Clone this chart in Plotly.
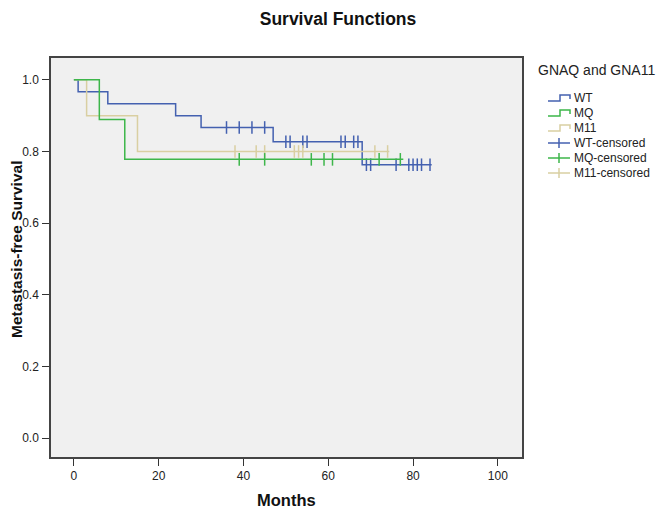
import plotly.graph_objects as go

# step times and survival levels
wt_time = [0, 1, 8, 24, 30, 47, 68, 84.4]
wt_surv = [1.0, 0.967, 0.933, 0.900, 0.867, 0.827, 0.763, 0.763]
wt_cens = [36, 39, 42, 45, 50, 51, 54, 55, 63, 64, 66, 67, 69, 70, 76, 79, 80, 81, 82, 84]

mq_time = [0, 6, 12, 77.7]
mq_surv = [1.0, 0.889, 0.778, 0.778]
mq_cens = [39, 45, 56, 59, 61, 72, 77]

m11_time = [0, 3, 15, 74.4]
m11_surv = [1.0, 0.9, 0.8, 0.8]
m11_cens = [38, 43, 45, 52, 53, 54, 71, 74]

groups = ["WT", "MQ", "M11"]
colors = {"WT": "#4461b0", "MQ": "#3db64a", "M11": "#d9cfa2"}
steps = {"WT": (wt_time, wt_surv, wt_cens),
         "MQ": (mq_time, mq_surv, mq_cens),
         "M11": (m11_time, m11_surv, m11_cens)}


def level_at(t, times, surv):
    s = surv[0]
    for tt, ss in zip(times, surv):
        if tt <= t:
            s = ss
    return s


# the page body has an 8px margin, so shrink the figure and shift everything by it
OFF = 8
W, H = 672 - OFF, 514 - OFF
L, R, T, B = 51 - OFF, 522 - OFF, 58 - OFF, 457 - OFF   # plot box in figure pixels


def px(x):
    # x given in screenshot pixels
    return (x - OFF - L) / (R - L)


def py(y):
    return 1 - (y - OFF - T) / (B - T)


FONT = "Liberation Sans, Arial, sans-serif"
fig = go.Figure()

# green drawn last so it sits on top
for g in ["WT", "M11", "MQ"]:
    t, s, c = steps[g]
    fig.add_trace(go.Scatter(x=t, y=s, mode="lines", line_shape="hv", name=g,
                             line=dict(color=colors[g], width=1.5), hoverinfo="skip"))
    fig.add_trace(go.Scatter(x=c, y=[level_at(v, t, s) for v in c], mode="markers",
                             name=g + "-censored",
                             marker=dict(symbol="line-ns", size=9,
                                         line=dict(color=colors[g], width=1.5)),
                             hoverinfo="skip"))

# hand-built legend, SPSS style
shapes = []
annotations = [dict(text="GNAQ and GNA11", x=px(536), y=py(70), xref="paper", yref="paper",
                    xanchor="left", yanchor="middle", showarrow=False,
                    font=dict(size=14, color="#222222"))]
x0 = 548
labels = groups + [g + "-censored" for g in groups]
for i, lab in enumerate(labels):
    yy = 98 + 15 * i
    col = colors[lab.split("-")[0]]
    if i < 3:
        path = (f"M {px(x0)},{py(yy + 3)} L {px(x0 + 12)},{py(yy + 3)} "
                f"L {px(x0 + 12)},{py(yy - 3)} L {px(x0 + 22)},{py(yy - 3)} "
                f"L {px(x0 + 22)},{py(yy + 1)}")
        shapes.append(dict(type="path", path=path, xref="paper", yref="paper",
                           line=dict(color=col, width=1.5)))
    else:
        shapes.append(dict(type="line", x0=px(x0), x1=px(x0 + 22), y0=py(yy), y1=py(yy),
                           xref="paper", yref="paper", line=dict(color=col, width=1.5)))
        shapes.append(dict(type="line", x0=px(x0 + 11), x1=px(x0 + 11), y0=py(yy - 5),
                           y1=py(yy + 5), xref="paper", yref="paper",
                           line=dict(color=col, width=1.5)))
    annotations.append(dict(text=lab, x=px(x0 + 24), y=py(yy), xref="paper", yref="paper",
                            xanchor="left", yanchor="middle", showarrow=False,
                            font=dict(size=12, color="#222222")))

annotations.append(dict(text="<b>Metastasis-free Survival</b>", textangle=-90,
                        x=px(16), y=py(250), xref="paper", yref="paper",
                        xanchor="center", yanchor="middle", showarrow=False,
                        font=dict(size=15.5, color="#111111")))
annotations.append(dict(text="<b>Months</b>", x=px(286), y=py(500), xref="paper",
                        yref="paper", xanchor="center", yanchor="middle", showarrow=False,
                        font=dict(size=16.5, color="#111111")))

fig.update_layout(
    width=W, height=H,
    margin=dict(l=L, r=W - R, t=T, b=H - B),
    paper_bgcolor="white", plot_bgcolor="#f0f0f0",
    font=dict(family=FONT, color="#222222", size=12),
    title=dict(text="<b>Survival Functions</b>", x=(338 - OFF) / W, xanchor="center",
               xref="container", y=1 - (19 - OFF) / H, yanchor="middle",
               yref="container", font=dict(size=17.5, color="#111111")),
    showlegend=False,
    shapes=shapes,
    annotations=annotations,
)
fig.update_xaxes(range=[-5.4, 105.7], tickvals=[0, 20, 40, 60, 80, 100],
                 ticks="outside", ticklen=7, tickcolor="#333333",
                 showline=True, linecolor="#444444", linewidth=1.5, mirror=True,
                 showgrid=False, zeroline=False, automargin=False)
fig.update_yaxes(range=[-0.053, 1.061], tickvals=[0, 0.2, 0.4, 0.6, 0.8, 1.0],
                 tickformat=".1f", ticklabelstandoff=1,
                 ticks="outside", ticklen=7, tickcolor="#333333",
                 showline=True, linecolor="#444444", linewidth=1.5, mirror=True,
                 showgrid=False, zeroline=False, automargin=False)

fig.write_html("out.html")
